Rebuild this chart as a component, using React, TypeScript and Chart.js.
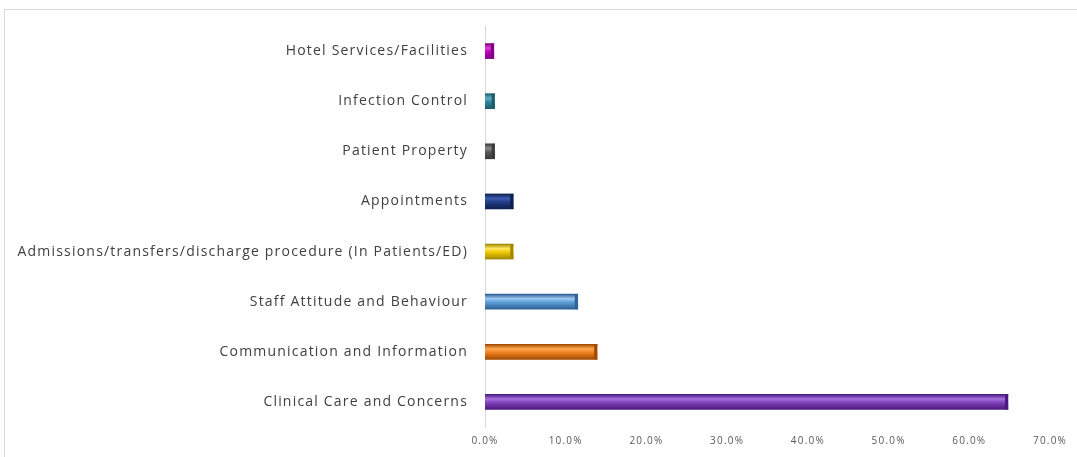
import React, { useEffect, useRef } from "react";
import { Chart, registerables } from "chart.js";

Chart.register(...registerables);

const categories = [
  "Hotel Services/Facilities",
  "Infection Control",
  "Patient Property",
  "Appointments",
  "Admissions/transfers/discharge procedure (In Patients/ED)",
  "Staff Attitude and Behaviour",
  "Communication and Information",
  "Clinical Care and Concerns",
];
const values = [1.1, 1.2, 1.2, 3.5, 3.5, 11.5, 13.9, 64.8];
const baseColors = ["#C000C0", "#31859C", "#595959", "#1F3B84", "#F0C800", "#5B9BD5", "#F08020", "#8040B8"];
const lightColors = ["#E040E0", "#5FB0C0", "#8A8A8A", "#3A5CB0", "#FFE860", "#9CC8F0", "#FFA850", "#A870E0"];
const darkColors = ["#800080", "#1F5C6B", "#3A3A3A", "#0F2050", "#A08800", "#2F6096", "#A04A00", "#4A1A80"];
const xTicks = [0, 10, 20, 30, 40, 50, 60, 70];

export default function App() {
  const ref = useRef<HTMLCanvasElement | null>(null);
  useEffect(() => {
    if (!ref.current) return;
    const chart = new Chart(ref.current, {
      type: "bar",
      data: {
        labels: categories,
        datasets: [
          {
            data: values,
            barThickness: 15,
            borderWidth: 0,
            backgroundColor: (ctx: any) => {
              const c = ctx.chart;
              const i = ctx.dataIndex ?? 0;
              const ys = c.scales?.y;
              if (!ys) return baseColors[i];
              const cy = ys.getPixelForValue(i);
              if (!isFinite(cy)) return baseColors[i];
              const g = c.ctx.createLinearGradient(0, cy - 7.5, 0, cy + 7.5);
              g.addColorStop(0, darkColors[i]);
              g.addColorStop(0.3, lightColors[i]);
              g.addColorStop(0.55, baseColors[i]);
              g.addColorStop(1, darkColors[i]);
              return g;
            },
          },
        ],
      },
      options: {
        indexAxis: "y",
        animation: false,
        responsive: false,
        maintainAspectRatio: false,
        layout: { padding: { top: 26, right: 27, bottom: 0, left: 0 } },
        plugins: { legend: { display: false }, tooltip: { enabled: false } },
        scales: {
          x: {
            min: 0,
            max: 70,
            afterFit: (s: any) => {
              s.height = 30;
            },
            afterBuildTicks: (s: any) => {
              s.ticks = xTicks.map((v) => ({ value: v }));
            },
            grid: { display: false, drawTicks: false },
            border: { display: false },
            ticks: {
              padding: 8,
              color: "#595959",
              font: { family: "Open Sans", size: 10 },
              callback: (v: any) => Number(v).toFixed(1) + "%",
            },
          },
          y: {
            afterFit: (s: any) => {
              s.width = 485;
            },
            grid: { display: false, drawTicks: false },
            border: { display: true, color: "#D9D9D9", width: 1 },
            ticks: {
              padding: 17,
              color: "#404040",
              font: { family: "Open Sans", size: 14 },
            },
          },
        },
      },
      plugins: [
        {
          id: "spacing",
          beforeDraw(c: any) {
            c.ctx.letterSpacing = "1.2px";
          },
          afterDraw(c: any) {
            c.ctx.letterSpacing = "0px";
          },
        },
        {
          id: "barEnds",
          afterDatasetsDraw(c: any) {
            const meta = c.getDatasetMeta(0);
            const cx = c.ctx;
            cx.save();
            meta.data.forEach((b: any, i: number) => {
              cx.fillStyle = darkColors[i];
              cx.fillRect(b.x - 3, b.y - 7.5, 3, 15);
            });
            cx.restore();
          },
        },
      ],
    } as any);
    return () => chart.destroy();
  }, []);
  return (
    <div style={{ position: "fixed", left: 0, top: 0, width: 1077, height: 457, background: "#fff" }}>
      <div
        style={{
          position: "absolute",
          left: 4,
          top: 9,
          width: 1073,
          height: 448,
          borderTop: "1px solid #D9D9D9",
          borderLeft: "1px solid #D9D9D9",
          boxSizing: "border-box",
        }}
      />
      <canvas ref={ref} width={1077} height={457} style={{ position: "absolute", left: 0, top: 0 }} />
    </div>
  );
}
